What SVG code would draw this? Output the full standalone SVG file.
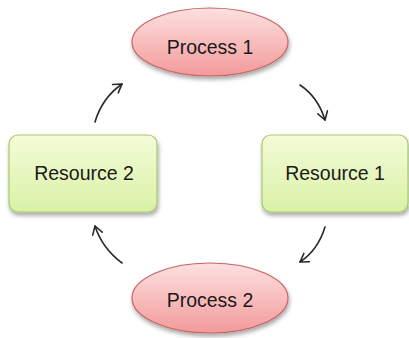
<svg xmlns="http://www.w3.org/2000/svg" width="409" height="338" viewBox="0 0 409 338">
<style>
.proc{fill:url(#pg);stroke:#c86464;stroke-width:1.2}
.res{fill:url(#rg);stroke:#a8c870;stroke-width:1.2}
.lbl{font-family:"Liberation Sans",Arial,sans-serif;font-size:19.5px;fill:#1a1a1a;text-anchor:middle}
.conn{fill:none;stroke:#2a2a2a;stroke-width:1.6;stroke-linecap:round}
</style>
<defs>
<linearGradient id="pg" x1="0" y1="0" x2="0" y2="1">
<stop offset="0" stop-color="#fde0e0"/>
<stop offset="1" stop-color="#f29a9a"/>
</linearGradient>
<linearGradient id="rg" x1="0" y1="0" x2="0" y2="1">
<stop offset="0" stop-color="#f4fcd8"/>
<stop offset="1" stop-color="#d9f1a6"/>
</linearGradient>
<filter id="sh" x="-20%" y="-20%" width="140%" height="150%">
<feDropShadow dx="1" dy="3" stdDeviation="2" flood-color="#000" flood-opacity="0.35"/>
</filter>
<marker id="ah" viewBox="0 0 12 12" refX="10" refY="6" markerWidth="12" markerHeight="12" markerUnits="userSpaceOnUse" orient="auto">
<path d="M2,1 L10,6 L2,11" fill="none" stroke="#2a2a2a" stroke-width="1.6" stroke-linecap="round" stroke-linejoin="round"/>
</marker>
</defs>
<g id="connectors">
<path class="conn" marker-end="url(#ah)" d="M95,122 Q102,98 122,84"/>
<path class="conn" marker-end="url(#ah)" d="M300,85 Q318,97 325,120"/>
<path class="conn" marker-end="url(#ah)" d="M325,227 Q318,250 300,262"/>
<path class="conn" marker-end="url(#ah)" d="M122,263 Q102,248 95,226"/>
</g>
<g id="process1">
<ellipse class="proc" filter="url(#sh)" cx="210" cy="42" rx="78" ry="34"/>
<text class="lbl" x="210" y="54">Process 1</text>
</g>
<g id="resource2">
<rect class="res" filter="url(#sh)" x="9" y="135" width="148" height="77" rx="9"/>
<text class="lbl" x="84" y="180">Resource 2</text>
</g>
<g id="resource1">
<rect class="res" filter="url(#sh)" x="262" y="135" width="146" height="77" rx="9"/>
<text class="lbl" x="335" y="180">Resource 1</text>
</g>
<g id="process2">
<ellipse class="proc" filter="url(#sh)" cx="210" cy="298" rx="78" ry="35"/>
<text class="lbl" x="210" y="307">Process 2</text>
</g>
</svg>
